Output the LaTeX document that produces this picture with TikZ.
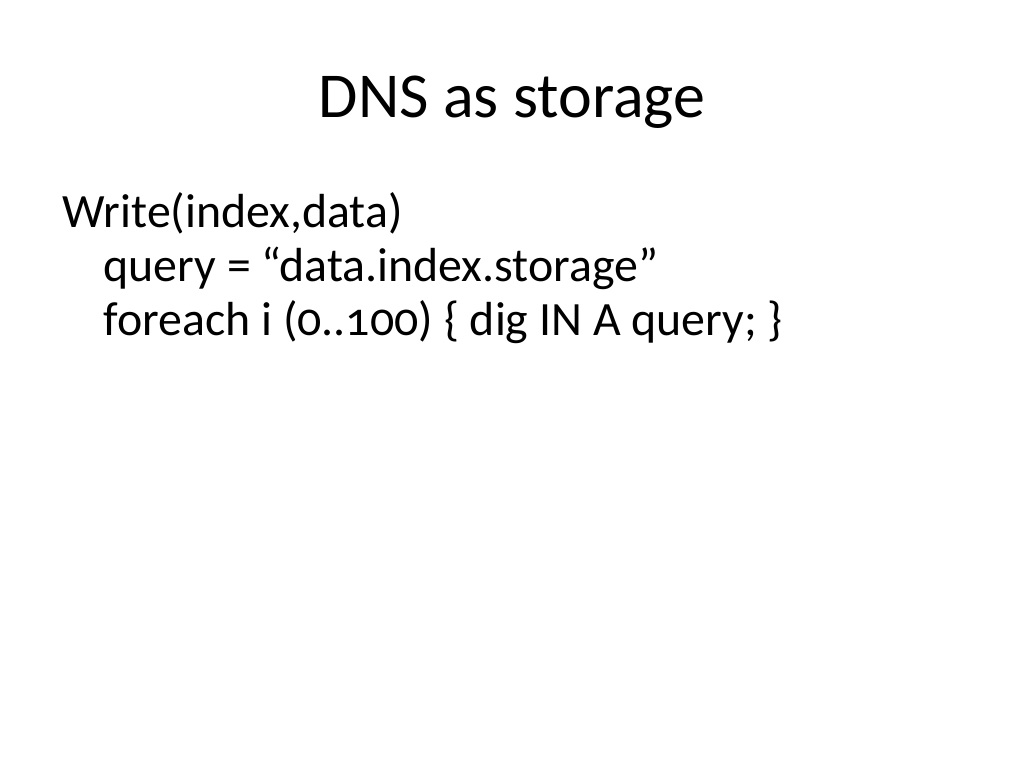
\documentclass[tikz,border=0pt]{standalone}
\usepackage{fontspec}
\setmainfont{Carlito}
\newfontfamily\oldnum[Numbers=OldStyle]{Carlito}
\begin{document}
\begin{tikzpicture}[x=0.01cm,y=-0.01cm]
		\tikzstyle{titletext}=[font=\fontsize{18.2}{22}\selectfont,inner sep=0pt]
		\tikzstyle{bodytext}=[font=\fontsize{13.6}{16}\selectfont,inner sep=0pt,anchor=base west]
		\useasboundingbox (0,0) rectangle (1024,768);

		\node[titletext,anchor=base](title) at (512,118){DNS as storage};

		\node[bodytext](line1) at (62,228){Write(index,data)};
		\node[bodytext](line2) at (103,282){query = ``data.index.storage''};
		\node[bodytext](line3) at (103,336){\oldnum foreach i (0..100) \{ dig IN A query; \}};
	\end{tikzpicture}
\end{document}
